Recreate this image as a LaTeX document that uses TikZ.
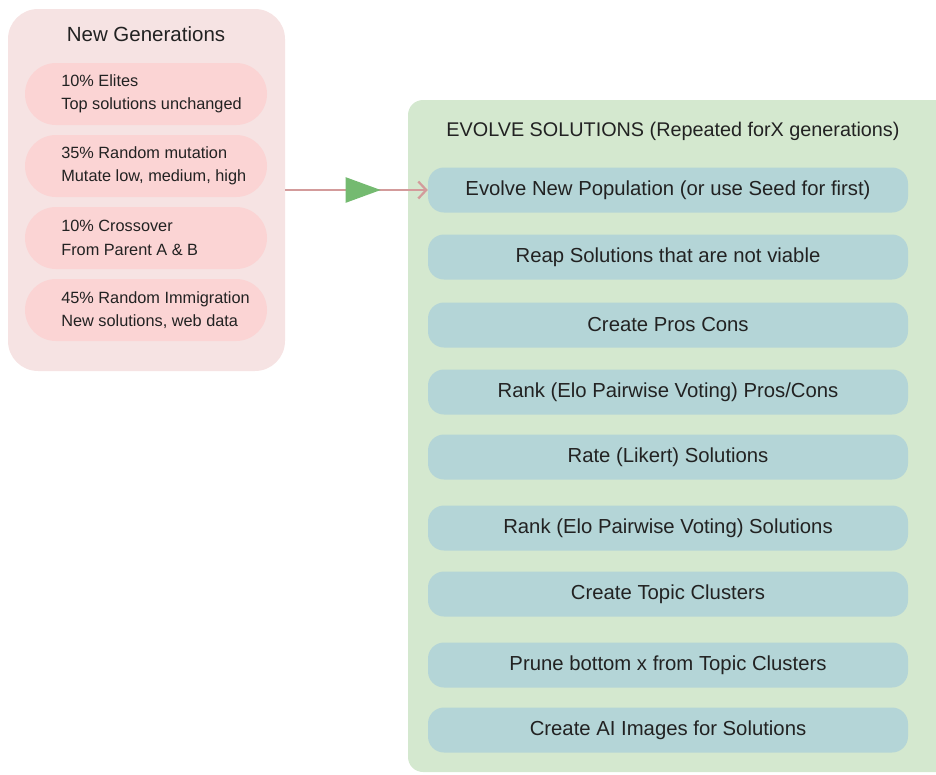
\documentclass[tikz,border=0pt]{standalone}
\usepackage{fontspec}
\setmainfont{Liberation Sans}
\usetikzlibrary{arrows.meta,decorations.markings}
\definecolor{panelpink}{HTML}{F6E3E3}
\definecolor{pillpink}{HTML}{FBD4D4}
\definecolor{panelgreen}{HTML}{D4E8CF}
\definecolor{boxblue}{HTML}{B4D5D7}
\definecolor{linkred}{HTML}{D39B9B}
\definecolor{tipgreen}{HTML}{74BA70}
\definecolor{ink}{HTML}{222222}
\begin{document}
\begin{tikzpicture}[x=1pt,y=-1pt,
  pill/.style={fill=pillpink, rounded corners=31pt, minimum width=242pt, minimum height=62pt, inner sep=0pt},
  pilltext/.style={anchor=west, xshift=33pt, align=left, text=ink, font=\fontsize{16.3}{23.5}\selectfont},
  stepbox/.style={fill=boxblue, rounded corners=16pt, minimum width=480pt, minimum height=45pt, text=ink, font=\fontsize{20.3}{24}\selectfont}]
\useasboundingbox (0,0) rectangle (936,774);

% left: new generations
\node[fill=panelpink, rounded corners=30pt, minimum width=277pt, minimum height=362pt] (gen) at (146.5,190) {};
\node[text=ink, font=\fontsize{20.5}{24}\selectfont] (gentitle) at (146,34) {New Generations};
\node[pill, label={[pilltext]west:10\% Elites\\Top solutions unchanged}] (elites) at (146,94) {};
\node[pill, label={[pilltext]west:35\% Random mutation\\Mutate low, medium, high}] (mutation) at (146,166) {};
\node[pill, label={[pilltext]west:10\% Crossover\\From Parent A \& B}] (crossover) at (146,238) {};
\node[pill, label={[pilltext]west:45\% Random Immigration\\New solutions, web data}] (immigration) at (146,310) {};

% right: evolve loop
\begin{scope}
\clip (0,0) rectangle (936,774);
\fill[panelgreen, rounded corners=15pt] (408,100) rectangle (960,772);
\end{scope}
\node[text=ink, font=\fontsize{19.8}{24}\selectfont] (evtitle) at (673,131) {EVOLVE SOLUTIONS (Repeated forX generations)};

\node[stepbox] (evolve) at (668,190) {Evolve New Population (or use Seed for first)};
\node[stepbox] (reap) at (668,257) {Reap Solutions that are not viable};
\node[stepbox] (proscons) at (668,325) {Create Pros Cons};
\node[stepbox] (rankpc) at (668,392) {Rank (Elo Pairwise Voting) Pros/Cons};
\node[stepbox] (rate) at (668,457) {Rate (Likert) Solutions};
\node[stepbox] (ranksol) at (668,528) {Rank (Elo Pairwise Voting) Solutions};
\node[stepbox] (clusters) at (668,594) {Create Topic Clusters};
\node[stepbox] (prune) at (668,665) {Prune bottom x from Topic Clusters};
\node[stepbox] (images) at (668,730) {Create AI Images for Solutions};

% link
\draw[linkred, line width=2.2pt, -{Straight Barb[length=8pt,width=17pt,line width=2.2pt]},
  decoration={markings, mark=at position 0.67 with {\arrow[tipgreen]{Triangle[length=35pt,width=25pt]}}},
  postaction={decorate}] (gen.east) -- (evolve.west);
\end{tikzpicture}
\end{document}
